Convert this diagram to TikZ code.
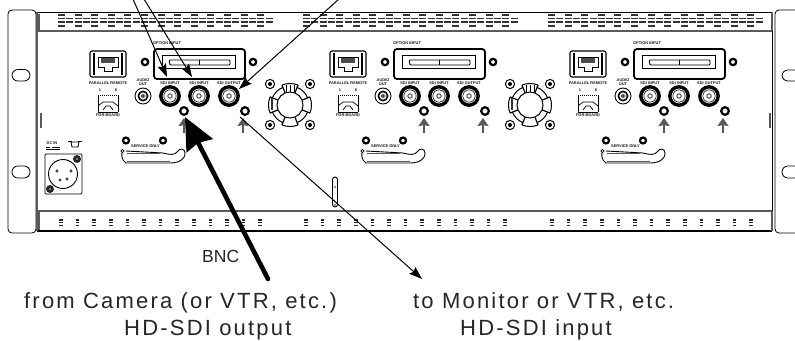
\documentclass[tikz,border=0pt]{standalone}
\usepackage{fontspec}
\setmainfont{Liberation Sans}
\usetikzlibrary{arrows.meta}
\definecolor{panelgray}{gray}{0.35}
\tikzset{
  x=1pt,y=-1pt,
  outline/.style={draw=black,line width=0.8pt,fill=white},
  ring/.style={draw=black,line width=2.2pt,fill=white},
  grayline/.style={draw=panelgray,line width=1.6pt},
  tinylabel/.style={font=\fontsize{3.9}{5}\selectfont\bfseries,inner sep=0pt,text=black!90},
  biglabel/.style={font=\fontsize{22}{22}\selectfont\addfontfeature{LetterSpace=10},inner sep=0pt,anchor=base west,text=black!85},
  smalllabel/.style={font=\fontsize{17.5}{18}\selectfont,inner sep=0pt,anchor=base west,text=black!85},
  thinarrow/.style={draw=black,line width=1pt,-{Stealth[length=13pt,width=9pt,inset=2pt]}},
  thickarrow/.style={draw=black,line width=4.6pt,line cap=round,-{Stealth[length=32pt,width=29pt,inset=3pt]}},
  upmark/.style={draw=panelgray,line width=2.4pt,-{Stealth[length=8pt,width=11pt,inset=1pt]}},
  ventbar/.style={draw=black!80,line width=1.1pt},
  dotbar/.style={draw=black!85,line width=1.3pt}
}
\newcommand{\modulepanel}[2]{%
\begin{scope}[xshift=#2pt]
  % parallel remote jack
  \draw[line width=1.1pt,rounded corners=2pt] (90,51) rectangle (126,77);
  \draw[line width=1.6pt] (94,53)--(94,75) (122,53)--(122,75);
  \draw[line width=1pt,fill=white] (98,57)--(118,57)--(118,67)--(112,67)--(112,71)--(104,71)--(104,67)--(98,67)--cycle;
  \fill[black!70] (101,58) rectangle (115,63);
  \node[tinylabel] (par#1) at (108,83.5) {PARALLEL REMOTE};
  \node[tinylabel] (one#1) at (100,90.5) {1};
  \node[tinylabel] (eight#1) at (116,90.5) {8};
  \draw[line width=0.7pt] (98,112)--(98,95) (118,112)--(118,95);
  \draw[line width=1pt,densely dotted] (98,95)--(118,95);
  \draw[line width=0.7pt] (98,106)--(103,102)--(113,102)--(118,106) (103,110)--(106,106)--(110,106)--(113,110);
  \draw[line width=0.7pt] (98,112)--(118,112);
  \node[tinylabel] (psu#1) at (108,115.5) {FOR-BOARD};
  % option input
  \node[tinylabel,anchor=west] (opt#1) at (153,43.5) {OPTION INPUT};
  \draw[ring] (145,62) circle (3.2pt);
  \draw[ring] (253,62) circle (3.2pt);
  \draw[draw=black,line width=1.8pt,fill=white,rounded corners=3pt] (154,49) rectangle (245,79);
  \draw[line width=0.8pt] (162,55) rectangle (235,68);
  \draw[line width=0.9pt,rounded corners=1pt] (169,60)--(230,60)--(230,65)--(170,65)--cycle;
  \draw[line width=0.7pt] (199,60)--(199,65);
  % audio out
  \node[tinylabel] (aud#1) at (143,80) {AUDIO};
  \node[tinylabel] (out#1) at (143,84.5) {OUT};
  \draw[line width=0.9pt,fill=white] (143,96) circle (8pt);
  \draw[line width=1.6pt,fill=white] (143,96) circle (4.6pt);
  \fill[black!70] (143,96) circle (2pt);
  % BNC labels and connectors
  \node[tinylabel] (in1#1) at (170,83) {SDI INPUT};
  \node[tinylabel] (in2#1) at (199,83) {SDI INPUT};
  \node[tinylabel] (in3#1) at (229,83) {SDI OUTPUT};
  \foreach \bx in {170,199,229} {
    \draw[draw=black,line width=3.4pt,fill=white] (\bx,96) circle (9.2pt);
    \draw[line width=.6pt] (\bx,96) circle (6.2pt);
    \draw[line width=1pt,draw=black!70] (\bx,96) circle (2.2pt);
  }
  % output sockets and up marks
  \draw[ring] (184,111) circle (3.8pt);
  \draw[ring] (245,111) circle (3.8pt);
  \coordinate (upat#1) at (184,133);
  \coordinate (upatip#1) at (184,118);
  \coordinate (upbt#1) at (243,133);
  \coordinate (upbtip#1) at (243,118);
  \draw[upmark] (upat#1) -- (upatip#1);
  \draw[upmark] (upbt#1) -- (upbtip#1);
  % service only
  \draw[ring] (126,140.5) circle (3pt);
  \draw[ring] (163,140.5) circle (3pt);
  \node[tinylabel] (srv#1) at (145.5,146.5) {SERVICE ONLY};
  \draw[line width=.9pt] (123,151) .. controls (121,153) and (121,160) .. (126,163)--(170,163) .. controls (178,163) and (185,160) .. (185,153) .. controls (185,148) and (179,148) .. (177,152) .. controls (175,155) and (170,155) .. (163,153)--(126,151);
  \draw[draw=panelgray,line width=.9pt] (127,161)--(170,161) (127,153)--(160,153);
  \draw[line width=.8pt,fill=white] (122.5,151) circle (1.6pt);
\end{scope}}
\newcommand{\fanunit}[1]{%
\begin{scope}[xshift=#1pt]
  \draw[line width=1pt] (290,105) circle (13pt);
  \foreach \a in {22,68,112,158,202,248,292,338}
    \draw[line width=1.2pt] (290,105)++(\a:13pt) -- ++(\a:8.5pt);
  \foreach \a/\b in {68/112,158/202,248/292,338/382}
    \draw[line width=1pt] (290,105)++(\a:21.5pt) arc[start angle=\a,end angle=\b,radius=21.5pt];
  \foreach \a/\b in {22/68,112/158,202/248,292/338}
    \draw[line width=1pt] (290,105)++(\a:19pt) arc[start angle=\a,end angle=\b,radius=19pt];
  \draw[line width=1pt] (286,85)--(286,92) (290,85)--(290,92) (294,85)--(294,92);
  \fill[black!80] (271,98) rectangle (273,110);
  \foreach \mx/\my in {270/84,310/84,270/125,310/125} {
    \draw[draw=black,line width=1pt,fill=white] (\mx,\my) circle (4.6pt);
    \fill[black] (\mx,\my) circle (2pt);
  }
\end{scope}}
\newcommand{\ventgroup}[1]{%
  \foreach \i in {0,...,12} {
    \draw[ventbar] (#1+16.6*\i,15)--++(7,0);
    \draw[ventbar] (#1+16.6*\i+8.3,18.5)--++(7,0) (#1+16.6*\i,18.5)--++(7,0);
    \draw[ventbar] (#1+16.6*\i+8.3,22)--++(7,0) (#1+16.6*\i,22)--++(7,0);
    \draw[ventbar] (#1+16.6*\i,26)--++(7,0);
  }}
\newcommand{\dotgroup}[1]{%
  \foreach \i in {0,...,12} {
    \draw[dotbar] (#1+16.6*\i-1.8,220)--++(3.6,0) (#1+16.6*\i-1.8,222.7)--++(3.6,0) (#1+16.6*\i-1.8,225.4)--++(3.6,0);
  }}
\begin{document}
\begin{tikzpicture}
\useasboundingbox (0,0) rectangle (795,340);
\clip (0,0) rectangle (795,340);
\fill[white] (0,0) rectangle (795,340);
% ears
\draw[outline,rounded corners=4pt] (8,10) rectangle (36,233);
\draw[outline,rounded corners=4pt] (775,10) rectangle (805,233);
\draw[outline,rounded corners=5.9pt] (12,69.5) rectangle (30,81);
\draw[outline,rounded corners=5.9pt] (12,166) rectangle (30,178);
\draw[outline,rounded corners=5.9pt] (782,70) rectangle (810,81);
\draw[outline,rounded corners=5.9pt] (782,166) rectangle (810,178);
% chassis
\draw[line width=1pt] (37,12)--(772,12);
\draw[grayline] (37,31)--(772,31);
\draw[grayline] (37,211)--(772,211);
\draw[line width=1.1pt] (37,231)--(772,231);
\draw[grayline] (37,12)--(37,231);
\draw[grayline] (772,12)--(772,31) (772,211)--(772,231);
\draw[line width=.8pt] (772,31)--(772,211);
\draw[line width=1.6pt,draw=panelgray] (39,14)--(39,31) (39,211)--(39,230);
\draw[line width=1.6pt,draw=panelgray] (41,113)--(41,128);
\draw[line width=1.6pt,draw=panelgray] (770,113)--(770,128);
\ventgroup{58}
\ventgroup{303}
\ventgroup{548}
\dotgroup{61}
\dotgroup{306}
\dotgroup{552}
% modules
\modulepanel{1}{0}
\modulepanel{2}{240}
\modulepanel{3}{480}
\fanunit{0}
\fanunit{240}
% power
\node[tinylabel] (dc) at (52,143) {DC IN};
\draw[line width=.8pt] (46,147)--(50,147) (52,147)--(60,147) (46,149)--(60,149);
\draw[line width=.8pt] (68,141)--(72,141) (78,141)--(82,141);
\draw[line width=.8pt] (71,142)--(79,142)--(78,147)--(72,147)--cycle;
\draw[line width=.9pt,rounded corners=1pt] (45,154) rectangle (82,194);
\draw[line width=.9pt] (63,174) circle (14.5pt);
\foreach \px/\py in {57/171,71/171,60/180,67/179}
  \draw[line width=.6pt] (\px,\py) circle (1.3pt);
\foreach \px/\py in {77/159,50/189} {
  \fill[black!85] (\px,\py) circle (4pt);
  \fill[black!40] (\px,\py) circle (1.2pt);
}
% small slot
\draw[line width=.9pt,fill=white,rounded corners=2.5pt] (332.5,177) rectangle (337.5,207);
\fill[black!45] (335,187) circle (1.3pt) (335,205) circle (1.3pt);
% labels
\node[smalllabel] (bnc) at (202,262) {BNC};
\node[biglabel] (from) at (24,308) {from Camera (or VTR, etc.)};
\node[biglabel] (hdo) at (124,335) {HD-SDI output};
\node[biglabel] (to) at (413,308) {to Monitor or VTR, etc.};
\node[biglabel] (hdi) at (460,335) {HD-SDI input};
% connectors
\coordinate (a1s) at (133,-1);
\coordinate (a1e) at (167,77);
\coordinate (a2s) at (144,-1);
\coordinate (a2e) at (192,77);
\coordinate (a3s) at (339,-1);
\coordinate (a3e) at (239,89);
\coordinate (thicks) at (268,279);
\coordinate (thicke) at (185,117);
\coordinate (outs) at (240,117);
\coordinate (oute) at (422,279);
\draw[thinarrow] (a1s) -- (a1e);
\draw[thinarrow] (a2s) -- (a2e);
\draw[thinarrow] (a3s) -- (a3e);
\draw[thinarrow] (outs) -- (oute);
\draw[thickarrow] (thicks) -- (thicke);
\end{tikzpicture}
\end{document}
